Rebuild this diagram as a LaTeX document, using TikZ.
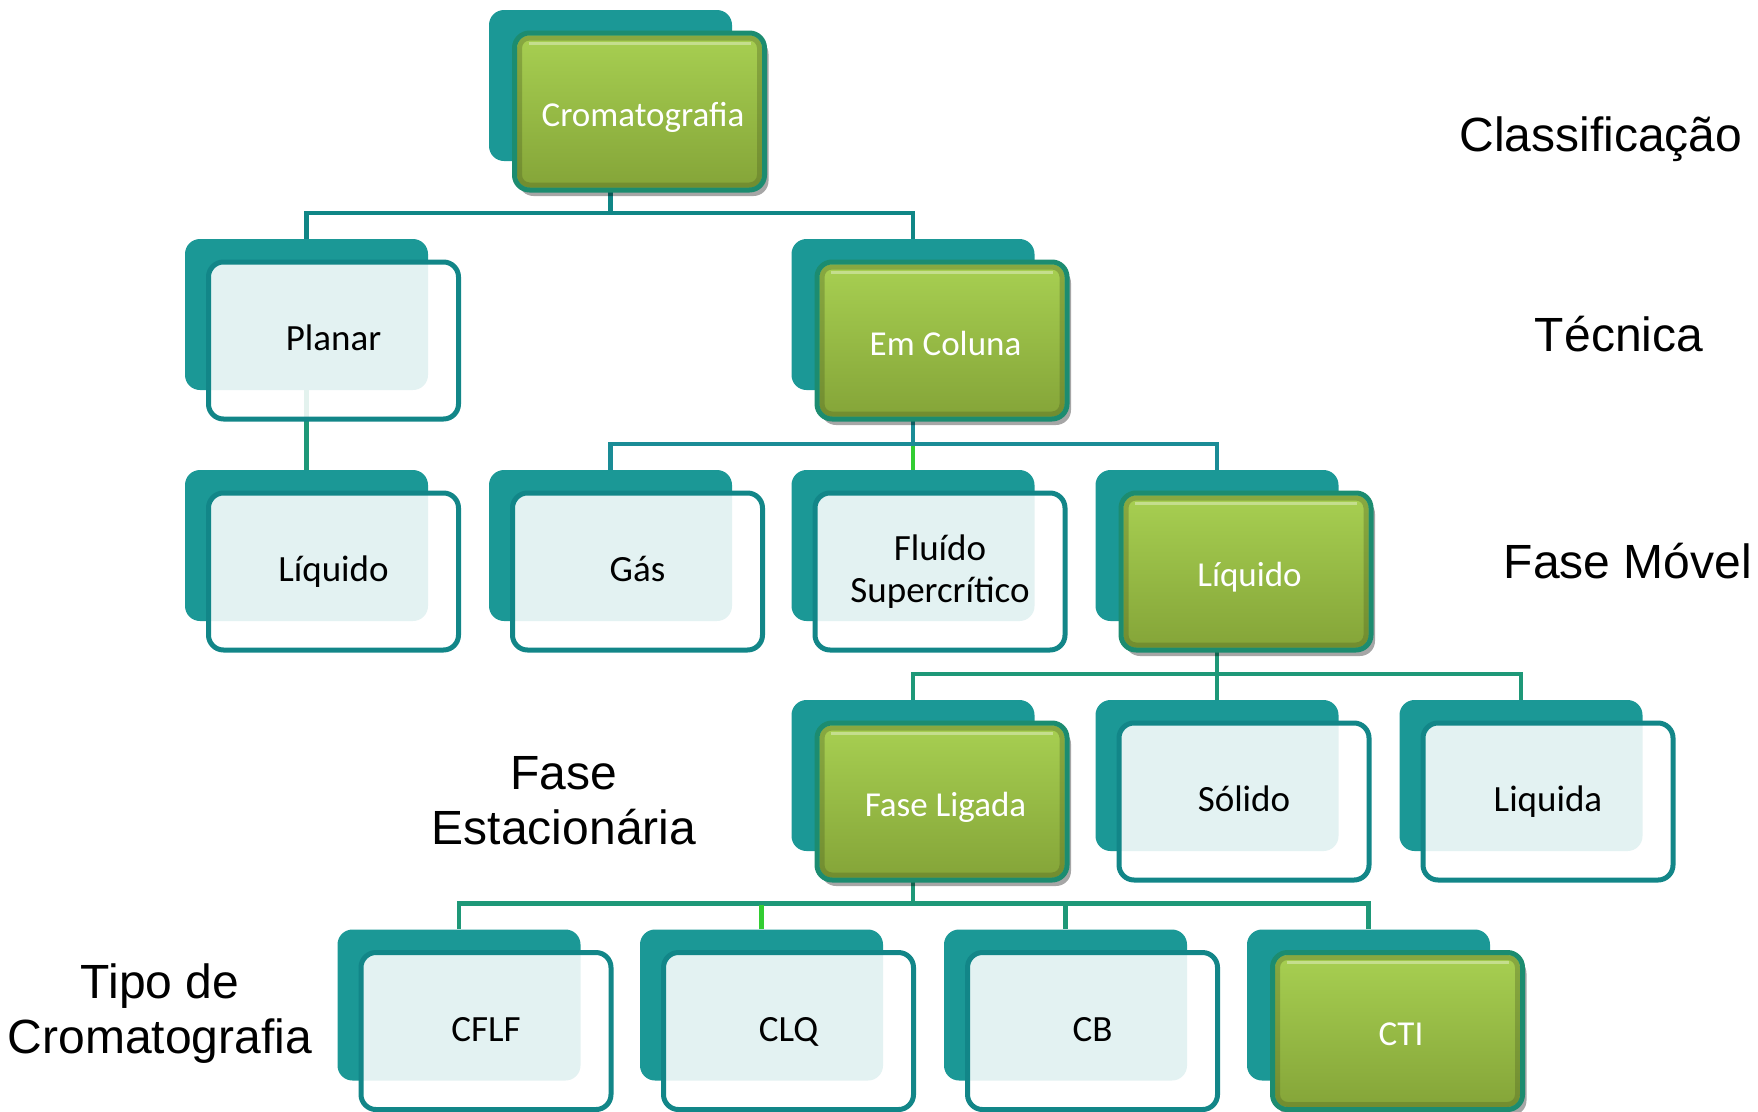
\documentclass[tikz,border=0pt]{standalone}
\usepackage{fontspec}
\setmainfont{Carlito}
\newfontfamily\labfont{Liberation Sans}
\usetikzlibrary{shadows,calc}
\pgfdeclarelayer{bg}
\pgfsetlayers{bg,main}
\definecolor{backteal}{RGB}{27,152,150}
\definecolor{frameteal}{RGB}{18,134,136}
\definecolor{greenframe}{RGB}{28,140,112}
\definecolor{gtop}{RGB}{168,208,82}
\definecolor{gbot}{RGB}{132,164,56}
\definecolor{lineteal}{RGB}{16,134,134}
\definecolor{lineblue}{RGB}{26,140,150}
\definecolor{linegreen}{RGB}{30,152,120}
\definecolor{brightgreen}{RGB}{50,205,50}
\tikzset{
 backbox/.style={fill=backteal, rounded corners=15pt, minimum width=243pt, minimum height=151pt, inner sep=0pt},
 lightbase/.style={draw=frameteal, line width=5pt, fill=white, fill opacity=0.88, text opacity=1,
   rounded corners=15pt, minimum width=250pt, minimum height=157pt, inner sep=0pt, align=center,
   font=\fontsize{37}{42}\selectfont, text=black},
 lightbox/.style={lightbase, text height=28pt, text depth=8pt},
 greenbox/.style={draw=greenframe, line width=5pt, top color=gtop, bottom color=gbot,
   rounded corners=15pt, minimum width=250pt, minimum height=157pt, inner sep=0pt, align=center,
   font=\fontsize{35}{42}\selectfont, text=white, text height=34pt, text depth=5pt,
   execute at begin node={\hspace*{7pt}},
   drop shadow={shadow xshift=4pt, shadow yshift=-6pt, opacity=0.35, fill=black},
   path picture={
     \draw[line width=5pt, draw=gbot!60!black, opacity=0.35, rounded corners=10pt]
       ($(path picture bounding box.south west)+(5,-5)$) rectangle ($(path picture bounding box.north east)+(-5,5)$);
     \draw[line width=3pt, draw=white, opacity=0.35]
       ($(path picture bounding box.north west)+(14,10)$) -- ($(path picture bounding box.north east)+(-14,10)$);
   }},
 conn/.style={line width=4.5pt},
 lab/.style={font=\labfont\fontsize{48}{55}\selectfont, align=center, text=black}
}
\newcommand\mkbox[6]{%
  \node[backbox] (#1B) at (#2,#3) {};
  \node[#4] (#1) at (#2+#6,#3+26) {#5};}
\begin{document}
\begin{tikzpicture}[x=1pt,y=-1pt]
\useasboundingbox (0,0) rectangle (1758,1111);
% level 1
\mkbox{cr}{610.5}{85.5}{greenbox}{Cromatografia}{29}
% level 2
\mkbox{pl}{306.5}{314.5}{lightbox}{Planar}{27}
\mkbox{ec}{913}{314.5}{greenbox}{Em Coluna}{29}
% level 3
\mkbox{lqa}{306.5}{545.5}{lightbox}{Líquido}{27}
\mkbox{gas}{610.5}{545.5}{lightbox}{Gás}{27}
\mkbox{flu}{913}{545.5}{lightbase}{Fluído\\Supercrítico}{27}
\mkbox{lqb}{1217}{545.5}{greenbox}{Líquido}{29}
% level 4
\mkbox{fl}{913}{775.5}{greenbox}{Fase Ligada}{29}
\mkbox{sol}{1217}{775.5}{lightbox}{Sólido}{27}
\mkbox{liq}{1521}{775.5}{lightbox}{Liquida}{27}
% level 5
\mkbox{cflf}{459}{1005}{lightbox}{CFLF}{27}
\mkbox{clq}{761.5}{1005}{lightbox}{CLQ}{27}
\mkbox{cb}{1065.5}{1005}{lightbox}{CB}{27}
\mkbox{cti}{1368.5}{1005}{greenbox}{CTI}{29}
% labels
\node[lab] (lclass) at (1601,139) {Classificação};
\node[lab] (ltec) at (1619,334) {Técnica};
\node[lab] (lmov) at (1628,561) {Fase Móvel};
\node[lab] (lest) at (564,801) {Fase\\Estacionária};
\node[lab] (ltipo) at (160,1014) {Tipo de\\Cromatografia};
% connectors
\begin{pgfonlayer}{bg}
\draw[conn, draw=lineteal] (crB.south) |- ($(plB.north)+(0,-26)$) -| (plB.north);
\draw[conn, draw=lineteal] (crB.south) |- ($(ecB.north)+(0,-26)$) -| (ecB.north);
\draw[conn, draw=linegreen] (plB.south) -- (lqaB.north);
\draw[conn, draw=lineblue] (ecB.south) |- ($(gasB.north)+(0,-26)$) -| (gasB.north);
\draw[conn, draw=lineblue] (ecB.south) |- ($(lqbB.north)+(0,-26)$) -| (lqbB.north);
\draw[conn, draw=brightgreen] ($(fluB.north)+(0,-24)$) -- (fluB.north);
\draw[conn, draw=linegreen] (lqbB.south) |- ($(flB.north)+(0,-26)$) -| (flB.north);
\draw[conn, draw=linegreen] (lqbB.south) |- ($(solB.north)+(0,-26)$) -| (solB.north);
\draw[conn, draw=linegreen] (lqbB.south) |- ($(liqB.north)+(0,-26)$) -| (liqB.north);
\draw[conn, draw=linegreen] (flB.south) |- ($(cflfB.north)+(0,-26)$) -| (cflfB.north);
\draw[conn, draw=linegreen] (flB.south) |- ($(cbB.north)+(0,-26)$) -| (cbB.north);
\draw[conn, draw=linegreen] (flB.south) |- ($(ctiB.north)+(0,-26)$) -| (ctiB.north);
\draw[conn, draw=brightgreen] ($(clqB.north)+(0,-24)$) -- (clqB.north);
\end{pgfonlayer}
\end{tikzpicture}
\end{document}
